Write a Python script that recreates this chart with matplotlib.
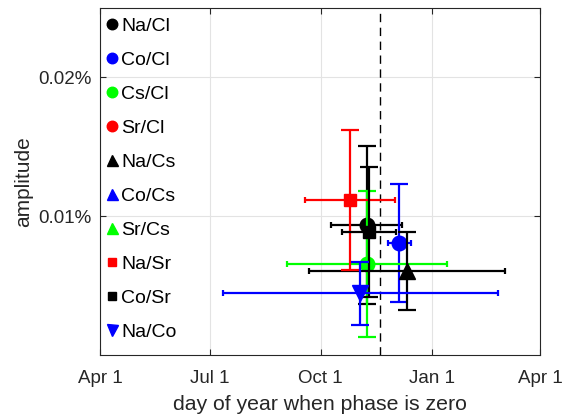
import numpy as np
import matplotlib
matplotlib.use('Agg')
import matplotlib.pyplot as plt
from matplotlib.lines import Line2D
from matplotlib.ticker import FuncFormatter

plt.rcParams['font.family'] = ['Liberation Sans', 'DejaVu Sans']

# ratio pairs (legend order), NaN = not drawn
pairs = ['Na/Cl', 'Co/Cl', 'Cs/Cl', 'Sr/Cl', 'Na/Cs', 'Co/Cs', 'Sr/Cs', 'Na/Sr', 'Co/Sr', 'Na/Co']
colors = ['k', 'b', 'lime', 'r', 'k', 'b', 'lime', 'r', 'k', 'b']
markers = ['o', 'o', 'o', 'o', '^', '^', '^', 's', 's', 'v']

# phase-zero day, counted in days from Apr 1
phase_day = [221.3, 248.3, 221.5, np.nan, 254.9, np.nan, np.nan, 207.4, 223.1, 215.8]
phase_err = [29.6, 9.3, 66.1, np.nan, 81.3, np.nan, np.nan, 37.3, 22.1, 114.1]
# amplitude in percent
amp = [0.00935, 0.00806, 0.00655, np.nan, 0.00604, np.nan, np.nan, 0.01117, 0.00885, 0.00444]
amp_err = [0.00568, 0.00423, 0.00525, np.nan, 0.0028, np.nan, np.nan, 0.00504, 0.00468, 0.00227]

month_ticks = [0, 91, 183, 275, 365]
month_labels = ['Apr 1', 'Jul 1', 'Oct 1', 'Jan 1', 'Apr 1']
zero_day = 232.3

msize = {'o': 10.5, '^': 11, 'v': 11, 's': 8}

fig = plt.figure(figsize=(5.63, 4.18), dpi=100)
ax = fig.add_axes([100 / 563, 63 / 418, 440 / 563, 347 / 418])

ax.axvline(zero_day, color='k', lw=1, dashes=(6, 4), zorder=1)

handles = []
for i, name in enumerate(pairs):
    c, m = colors[i], markers[i]
    if not np.isnan(amp[i]):
        ax.errorbar(phase_day[i], amp[i], xerr=phase_err[i], fmt='none',
                    ecolor=c, elinewidth=1.6, capsize=2.5, capthick=1.6, zorder=2 + i)
        ax.errorbar(phase_day[i], amp[i], yerr=amp_err[i], fmt=m, color=c,
                    ms=msize[m], elinewidth=1.6, capsize=6.5, capthick=1.6, zorder=2 + i)
    handles.append(Line2D([], [], ls='none', marker=m, color=c, ms=msize[m] * 0.72))

ax.set_xlim(0, 365)
ax.set_ylim(0, 0.025)
ax.set_xticks(month_ticks)
ax.set_xticklabels(month_labels)
ax.set_yticks([0.01, 0.02])
ax.yaxis.set_major_formatter(FuncFormatter(lambda v, p: f'{v:.2f}%'))

ax.grid(True, color='#e3e3e3', lw=0.8)
ax.set_axisbelow(True)
ax.tick_params(direction='in', top=True, right=True, length=4, width=0.8,
               labelsize=13.5, colors='#262626')
ax.tick_params(axis='x', pad=11)
ax.tick_params(axis='y', pad=6)
for s in ax.spines.values():
    s.set_color('#262626')
    s.set_linewidth(0.8)

ax.set_xlabel('day of year when phase is zero', fontsize=15.3, color='#262626', labelpad=5.5)
ax.set_ylabel('amplitude', fontsize=15, color='#262626')

ax.legend(handles, pairs, loc='upper left', bbox_to_anchor=(-0.005, 0.992),
          frameon=False, fontsize=14,
          handlelength=0.75, handletextpad=0.1, labelspacing=0.84,
          borderaxespad=0.2, borderpad=0.15)

fig.savefig('out.png', dpi=100)
